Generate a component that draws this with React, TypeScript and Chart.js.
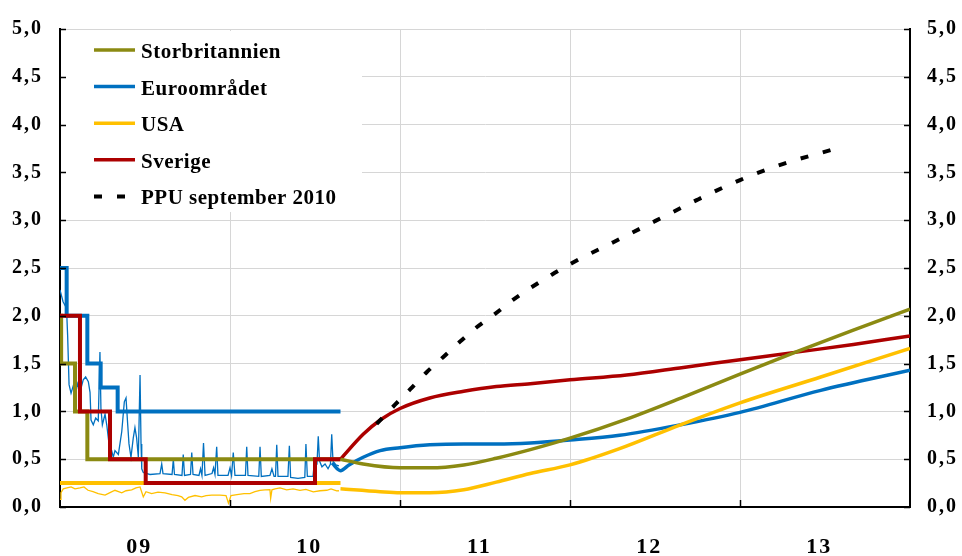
import React, { useEffect, useRef } from 'react';
import { Chart, registerables } from 'chart.js';

Chart.register(...registerables);

const FONT = '"Liberation Serif", "Times New Roman", serif';
const OLIVE = '#8B8A12';
const BLUE = '#0070C0';
const YELLOW = '#FFC000';
const RED = '#AC0000';
const GRID = '#d6d6d6';

// x values: months since 1 January 2009
const yearLabels = ['09', '10', '11', '12', '13'];
const yearLabelMonths = [5.6, 17.6, 29.6, 41.6, 53.6];
const gridYearMonths = [12, 24, 36, 48];

const legendLabels = ['Storbritannien', 'Euroområdet', 'USA', 'Sverige', 'PPU september 2010'];

// Policy rates (history, step lines)
const ukPolicyMonths = [0, 0.08, 1.06, 1.93, 19.8];
const ukPolicyRates = [2.0, 1.5, 1.0, 0.5, 0.5];
const euPolicyMonths = [0, 0.47, 1.93, 2.87, 4.07, 19.8];
const euPolicyRates = [2.5, 2.0, 1.5, 1.25, 1.0, 1.0];
const usPolicyMonths = [0, 19.8];
const usPolicyRates = [0.25, 0.25];
const sePolicyMonths = [0, 1.41, 3.53, 6.05, 18.0, 19.8];
const sePolicyRates = [2.0, 1.0, 0.5, 0.25, 0.5, 0.5];

// Overnight rates (thin lines)
const eoniaMonths = [0.0, 0.21, 0.46, 0.54, 0.64, 0.78, 0.94, 1.11, 1.25, 1.41, 1.64, 1.81, 2.0, 2.12, 2.19, 2.35, 2.52, 2.7, 2.82, 2.89, 2.99, 3.18, 3.3, 3.46, 3.65, 3.76, 3.88, 4.12, 4.36, 4.54, 4.66, 4.78, 4.87, 5.01, 5.17, 5.29, 5.41, 5.53, 5.65, 5.72, 5.77, 5.88, 6.35, 7.06, 7.18, 7.27, 7.91, 8.0, 8.08, 8.61, 8.7, 8.79, 9.21, 9.3, 9.39, 9.81, 9.92, 10.02, 10.13, 10.24, 10.73, 10.84, 10.94, 11.06, 11.15, 11.86, 12.0, 12.11, 12.23, 12.35, 13.09, 13.18, 13.27, 14.03, 14.12, 14.21, 14.82, 14.96, 15.11, 15.21, 15.3, 15.39, 16.09, 16.19, 16.28, 16.8, 17.28, 17.36, 17.46, 17.86, 17.93, 18.0, 18.14, 18.23, 18.32, 18.49, 18.71, 18.92, 19.09, 19.18, 19.27, 19.48, 19.69];
const eoniaRates = [2.27, 2.15, 2.08, 1.79, 1.28, 1.19, 1.27, 1.2, 1.29, 1.2, 1.33, 1.36, 1.31, 1.2, 0.91, 0.86, 0.93, 0.9, 1.62, 1.03, 0.86, 0.97, 0.86, 0.66, 0.59, 0.52, 0.59, 0.55, 0.79, 1.1, 1.14, 0.86, 0.66, 0.52, 0.72, 0.83, 0.72, 0.52, 1.38, 0.66, 0.4, 0.36, 0.34, 0.35, 0.45, 0.35, 0.34, 0.5, 0.34, 0.33, 0.55, 0.33, 0.34, 0.57, 0.34, 0.33, 0.4, 0.33, 0.67, 0.33, 0.35, 0.41, 0.34, 0.63, 0.33, 0.33, 0.41, 0.33, 0.57, 0.33, 0.33, 0.63, 0.33, 0.32, 0.63, 0.32, 0.33, 0.4, 0.32, 0.32, 0.65, 0.32, 0.32, 0.64, 0.31, 0.3, 0.31, 0.66, 0.32, 0.32, 0.43, 0.45, 0.45, 0.74, 0.48, 0.42, 0.45, 0.4, 0.45, 0.76, 0.48, 0.44, 0.43];
const fedFundsMonths = [0.0, 0.07, 0.23, 0.49, 0.78, 1.06, 1.41, 1.69, 1.98, 2.33, 2.7, 3.18, 3.53, 3.88, 4.36, 4.66, 5.06, 5.36, 5.65, 5.88, 6.07, 6.47, 6.92, 7.41, 7.91, 8.33, 8.59, 8.82, 9.06, 9.53, 10.0, 10.31, 10.71, 11.29, 11.72, 11.89, 12.07, 12.49, 12.99, 13.41, 13.76, 14.12, 14.47, 14.82, 14.87, 14.96, 15.18, 15.53, 16.0, 16.45, 16.94, 17.36, 17.88, 18.35, 18.83, 19.13, 19.53, 19.69];
const fedFundsRates = [0.08, 0.15, 0.19, 0.2, 0.21, 0.19, 0.2, 0.21, 0.175, 0.16, 0.14, 0.124, 0.15, 0.175, 0.148, 0.17, 0.18, 0.2, 0.21, 0.106, 0.16, 0.14, 0.155, 0.148, 0.13, 0.12, 0.106, 0.07, 0.1, 0.12, 0.106, 0.12, 0.124, 0.124, 0.12, 0.04, 0.12, 0.13, 0.14, 0.14, 0.16, 0.175, 0.18, 0.182, 0.09, 0.18, 0.19, 0.2, 0.18, 0.19, 0.175, 0.185, 0.158, 0.17, 0.175, 0.19, 0.168, 0.17];

// Market-implied forward rates and Riksbank repo path
const ukForwardMonths = [19.8, 21.4, 24.0, 26.1, 28.5, 30.8, 33.2, 36.0, 40.0, 44.0, 48.0, 52.1, 56.0, 60.0];
const ukForwardRates = [0.5, 0.45, 0.41, 0.41, 0.44, 0.51, 0.6, 0.72, 0.92, 1.15, 1.39, 1.63, 1.85, 2.07];
const euForwardMonths = [19.2, 19.8, 20.4, 21.4, 22.6, 24.0, 26.1, 28.5, 30.8, 33.2, 36.0, 39.5, 43.8, 48.0, 53.7, 60.0];
const euForwardRates = [0.46, 0.38, 0.44, 0.52, 0.59, 0.62, 0.65, 0.66, 0.66, 0.67, 0.7, 0.75, 0.86, 0.99, 1.22, 1.43];
const usForwardMonths = [19.8, 22.6, 24.0, 26.1, 28.5, 30.8, 33.2, 36.0, 39.5, 43.8, 48.0, 53.7, 60.0];
const usForwardRates = [0.19, 0.16, 0.15, 0.15, 0.18, 0.26, 0.35, 0.44, 0.61, 0.86, 1.09, 1.36, 1.66];
const seForwardMonths = [19.8, 21.4, 22.6, 24.0, 26.1, 28.5, 30.8, 33.2, 36.0, 40.0, 44.0, 48.0, 52.0, 56.0, 60.0];
const seForwardRates = [0.5, 0.76, 0.91, 1.03, 1.14, 1.21, 1.26, 1.29, 1.33, 1.38, 1.46, 1.54, 1.62, 1.7, 1.79];
const ppuMonths = [22.35, 23.65, 24.71, 25.88, 27.06, 28.24, 29.41, 30.71, 32.0, 34.71, 36.12, 39.06, 42.0, 44.94, 48.0, 51.06, 54.56];
const ppuRates = [0.87, 1.07, 1.23, 1.41, 1.57, 1.73, 1.88, 2.02, 2.17, 2.43, 2.55, 2.77, 2.99, 3.21, 3.42, 3.59, 3.74];

const pts = (xs: number[], ys: number[]) => xs.map((x, i) => ({ x, y: ys[i] }));

const legendStyles = [
  { color: OLIVE, dash: [] as number[] },
  { color: BLUE, dash: [] as number[] },
  { color: YELLOW, dash: [] as number[] },
  { color: RED, dash: [] as number[] },
  { color: '#000', dash: [8, 15] },
];

const letterSpacingPlugin = {
  id: 'letterSpacing',
  beforeDraw(chart: any) {
    chart.ctx.letterSpacing = '2px';
  },
  beforeDatasetsDraw(chart: any) {
    chart.ctx.letterSpacing = '0px';
  },
};

const overlayPlugin = {
  id: 'overlay',
  afterDraw(chart: any) {
    const { ctx, chartArea } = chart;
    const { left, right, top, bottom } = chartArea;
    ctx.save();
    // legend box
    ctx.fillStyle = '#ffffff';
    ctx.fillRect(left + 1, top + 2, 301, 181);
    ctx.letterSpacing = '0.5px';
    ctx.font = `bold 21px ${FONT}`;
    ctx.textBaseline = 'alphabetic';
    ctx.textAlign = 'left';
    legendLabels.forEach((label, i) => {
      const y = top + 21 + i * 36.6;
      const st = legendStyles[i];
      ctx.beginPath();
      ctx.setLineDash(st.dash);
      ctx.lineWidth = st.dash.length ? 4 : 3.5;
      ctx.strokeStyle = st.color;
      ctx.moveTo(left + 34, y);
      ctx.lineTo(left + 75, y);
      ctx.stroke();
      ctx.setLineDash([]);
      ctx.fillStyle = '#000';
      ctx.fillText(label, left + 81, y + 8);
    });
    ctx.letterSpacing = '0px';
    // inward tick marks
    ctx.strokeStyle = '#000';
    ctx.lineWidth = 1.5;
    const ys = chart.scales.y;
    ys.ticks.forEach((t: any) => {
      const py = Math.round(ys.getPixelForValue(t.value)) + 0.5;
      ctx.beginPath();
      ctx.moveTo(left, py);
      ctx.lineTo(left + 6, py);
      ctx.moveTo(right - 6, py);
      ctx.lineTo(right, py);
      ctx.stroke();
    });
    const xs = chart.scales.x;
    gridYearMonths.forEach((m) => {
      const px = Math.round(xs.getPixelForValue(m)) + 0.5;
      ctx.beginPath();
      ctx.moveTo(px, bottom);
      ctx.lineTo(px, bottom - 7);
      ctx.stroke();
    });
    ctx.restore();
  },
};

export default function App() {
  const ref = useRef<HTMLCanvasElement | null>(null);

  useEffect(() => {
    if (!ref.current) return;
    const thin = (label: string, data: any, color: string, order: number) => ({
      label, data, borderColor: color, borderWidth: 1.3, pointRadius: 0, order,
    });
    const chart = new Chart(ref.current, {
      type: 'line',
      data: {
        datasets: [
          { label: legendLabels[4], data: pts(ppuMonths, ppuRates), borderColor: '#000', borderWidth: 4, borderDash: [8, 15], borderCapStyle: 'butt', cubicInterpolationMode: 'monotone', pointRadius: 0, order: 0 },
          { label: legendLabels[0], data: pts(ukForwardMonths, ukForwardRates), borderColor: OLIVE, borderWidth: 3.5, cubicInterpolationMode: 'monotone', pointRadius: 0, order: 1 },
          { label: legendLabels[3], data: pts(seForwardMonths, seForwardRates), borderColor: RED, borderWidth: 3.5, cubicInterpolationMode: 'monotone', pointRadius: 0, order: 2 },
          { label: legendLabels[2], data: pts(usForwardMonths, usForwardRates), borderColor: YELLOW, borderWidth: 3.5, cubicInterpolationMode: 'monotone', pointRadius: 0, order: 3 },
          { label: legendLabels[1], data: pts(euForwardMonths, euForwardRates), borderColor: BLUE, borderWidth: 3.5, cubicInterpolationMode: 'monotone', pointRadius: 0, order: 4 },
          { label: legendLabels[3], data: pts(sePolicyMonths, sePolicyRates), borderColor: RED, borderWidth: 4, stepped: true, pointRadius: 0, order: 5 },
          { label: legendLabels[0], data: pts(ukPolicyMonths, ukPolicyRates), borderColor: OLIVE, borderWidth: 4, stepped: true, pointRadius: 0, order: 6 },
          { label: legendLabels[1], data: pts(euPolicyMonths, euPolicyRates), borderColor: BLUE, borderWidth: 4, stepped: true, pointRadius: 0, order: 7 },
          { label: legendLabels[2], data: pts(usPolicyMonths, usPolicyRates), borderColor: YELLOW, borderWidth: 4, stepped: true, pointRadius: 0, order: 8 },
          thin(legendLabels[1], pts(eoniaMonths, eoniaRates), BLUE, 9),
          thin(legendLabels[2], pts(fedFundsMonths, fedFundsRates), YELLOW, 10),
        ] as any,
      },
      options: {
        animation: false,
        responsive: true,
        maintainAspectRatio: false,
        layout: { padding: { top: 22, left: 0, right: 0, bottom: 0 } },
        plugins: { legend: { display: false }, tooltip: { enabled: false } },
        elements: { line: { tension: 0 } },
        scales: {
          x: {
            type: 'linear',
            position: 'bottom',
            min: 0,
            max: 60,
            afterBuildTicks: (s: any) => { s.ticks = gridYearMonths.map((v) => ({ value: v })); },
            afterFit: (s: any) => { s.height = 0; },
            ticks: { display: false },
            grid: { color: GRID, lineWidth: 1, drawTicks: false },
            border: { display: false },
          },
          x2: {
            type: 'linear',
            position: 'bottom',
            min: 0,
            max: 60,
            afterBuildTicks: (s: any) => { s.ticks = yearLabelMonths.map((v) => ({ value: v })); },
            afterFit: (s: any) => { s.height = 49; },
            ticks: {
              callback: (_v: any, i: number) => yearLabels[i],
              font: { family: FONT, size: 22, weight: 'bold' },
              color: '#000',
              padding: 27,
              maxRotation: 0,
              autoSkip: false,
            },
            grid: { display: false, drawTicks: false },
            border: { display: true, color: '#000', width: 2 },
          },
          y: {
            type: 'linear',
            position: 'left',
            min: 0,
            max: 5,
            afterFit: (s: any) => { s.width = 60; },
            ticks: {
              stepSize: 0.5,
              callback: (v: any) => Number(v).toFixed(1).replace('.', ','),
              font: { family: FONT, size: 20, weight: 'bold' },
              color: '#000',
              padding: 17,
            },
            grid: { color: GRID, lineWidth: 1, drawTicks: false },
            border: { display: true, color: '#000', width: 2 },
          },
          y2: {
            type: 'linear',
            position: 'right',
            min: 0,
            max: 5,
            afterFit: (s: any) => { s.width = 52; },
            ticks: {
              stepSize: 0.5,
              callback: (v: any) => Number(v).toFixed(1).replace('.', ','),
              font: { family: FONT, size: 20, weight: 'bold' },
              color: '#000',
              padding: 17,
            },
            grid: { display: false, drawTicks: false },
            border: { display: true, color: '#000', width: 2 },
          },
        },
      } as any,
      plugins: [letterSpacingPlugin, overlayPlugin],
    });
    return () => chart.destroy();
  }, []);

  return (
    <div style={{ position: 'absolute', left: 0, top: 0, width: 962, height: 556, background: '#fff' }}>
      <canvas ref={ref} />
    </div>
  );
}
